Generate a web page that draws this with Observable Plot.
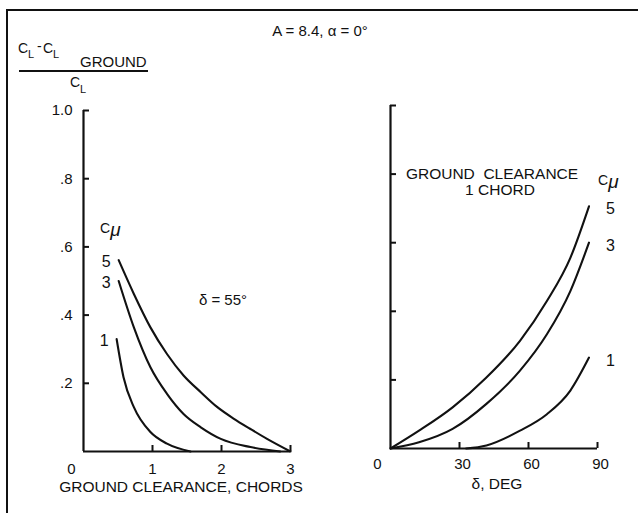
<!DOCTYPE html>
<html><head><meta charset="utf-8">
<script src="https://cdn.jsdelivr.net/npm/d3@7"></script>
<script src="https://cdn.jsdelivr.net/npm/@observablehq/plot@0.6"></script>
<style>
html,body{margin:0;padding:0;background:#fff;}
#root{position:relative;width:638px;height:513px;overflow:hidden;background:#fff;font-family:"Liberation Sans",Arial,sans-serif;color:#111;}
.t{position:absolute;white-space:nowrap;line-height:1;}
.plot{position:absolute;top:0;}
</style></head><body><div id="root"></div>
<script>
// ---- Data ----
const cmuLevels = ["1", "3", "5"];

// Left panel: loss ratio vs ground clearance (chords), delta = 55 deg
const clearance1 = [0.48, 0.58, 0.73, 0.97, 1.21, 1.55];
const loss1      = [0.33, 0.218, 0.130, 0.057, 0.023, 0.0];
const clearance3 = [0.51, 0.73, 0.97, 1.21, 1.45, 1.70, 1.99, 2.42, 2.85];
const loss3      = [0.50, 0.364, 0.247, 0.169, 0.110, 0.071, 0.037, 0.013, 0.0];
const clearance5 = [0.51, 0.73, 0.97, 1.21, 1.45, 1.70, 1.94, 2.18, 2.42, 2.66, 3.0];
const loss5      = [0.561, 0.462, 0.364, 0.286, 0.223, 0.174, 0.130, 0.096, 0.066, 0.037, 0.0];

// Right panel: loss ratio vs flap deflection delta (deg), clearance 1 chord
const delta1 = [32.9, 41.7, 56.3, 68.0, 78.2, 86.3];
const lossD1 = [0.0, 0.009, 0.052, 0.10, 0.169, 0.265];
const delta3 = [0, 12.4, 27.0, 41.7, 56.3, 68.0, 78.2, 86.3];
const lossD3 = [0, 0.018, 0.057, 0.13, 0.227, 0.333, 0.459, 0.60];
const delta5 = [0, 12.4, 27.0, 41.7, 56.3, 68.0, 78.2, 86.3];
const lossD5 = [0, 0.052, 0.12, 0.207, 0.314, 0.43, 0.556, 0.706];

// Ticks
const yTicks = [0.2, 0.4, 0.6, 0.8, 1.0];
const yTickLabels = [".2", ".4", ".6", ".8", "1.0"];
const leftXTicks = [1, 2, 3];
const rightXTicks = [30, 60, 90];

// ---- Tables ----
const zip = (xs, ys, c) => xs.map((x, i) => ({x, y: ys[i], c}));
const leftSeries = [zip(clearance1, loss1, "1"), zip(clearance3, loss3, "3"), zip(clearance5, loss5, "5")];
const rightSeries = [zip(delta1, lossD1, "1"), zip(delta3, lossD3, "3"), zip(delta5, lossD5, "5")];
const leftData = leftSeries.flat();
const rightData = rightSeries.flat();
const leftStarts = leftSeries.map(s => s[0]);
const rightEnds = rightSeries.map(s => s[s.length - 1]);

const INK = "#111";
const FONT = "'Liberation Sans', Arial, sans-serif";
const yFmt = d => yTickLabels[yTicks.indexOf(d)];

const left = Plot.plot({
  width: 330, height: 513,
  marginLeft: 83, marginRight: 40, marginTop: 110, marginBottom: 62,
  x: {domain: [0, 3], label: null},
  y: {domain: [0, 1], label: null},
  style: {background: "transparent", fontFamily: FONT, fontSize: "15px", color: INK},
  marks: [
    Plot.ruleX([0], {y1: 0, y2: 1, stroke: INK, strokeWidth: 2.2}),
    Plot.ruleY([0], {x1: 0, x2: 3, stroke: INK, strokeWidth: 2.2}),
    Plot.axisY(yTicks, {tickSize: -6, tickFormat: () => "", stroke: INK, strokeWidth: 2, label: null}),
    Plot.axisY(yTicks, {tickSize: 0, tickPadding: 11, tickFormat: yFmt, fill: INK, label: null}),
    Plot.axisX(leftXTicks, {tickSize: -6, tickFormat: () => "", stroke: INK, strokeWidth: 2, label: null}),
    Plot.axisX(leftXTicks, {tickSize: 0, tickPadding: 12, fill: INK, label: null}),
    Plot.axisX([0], {tickSize: 0, tickPadding: 12, dx: -12, fill: INK, label: null}),
    Plot.line(leftData, {x: "x", y: "y", z: "c", stroke: INK, strokeWidth: 2.1, curve: "monotone-x"}),
    Plot.text(leftStarts, {x: "x", y: "y", text: "c", textAnchor: "end", dx: -8, dy: 2, fontSize: 16, fill: INK})
  ]
});

const right = Plot.plot({
  width: 308, height: 513,
  marginLeft: 60, marginRight: 41, marginTop: 105, marginBottom: 65,
  x: {domain: [0, 90], label: null},
  y: {domain: [0, 1], label: null},
  style: {background: "transparent", fontFamily: FONT, fontSize: "15px", color: INK},
  marks: [
    Plot.ruleX([0], {y1: 0, y2: 1, stroke: INK, strokeWidth: 2.2}),
    Plot.ruleY([0], {x1: 0, x2: 90, stroke: INK, strokeWidth: 2.2}),
    Plot.axisY(yTicks, {tickSize: -6, tickFormat: () => "", stroke: INK, strokeWidth: 2, label: null}),
    Plot.axisX(rightXTicks, {tickSize: -6, tickFormat: () => "", stroke: INK, strokeWidth: 2, label: null}),
    Plot.axisX(rightXTicks, {tickSize: 0, tickPadding: 10, dx: 3, fill: INK, label: null}),
    Plot.axisX([0], {tickSize: 0, tickPadding: 10, dx: -13, fill: INK, label: null}),
    Plot.line(rightData, {x: "x", y: "y", z: "c", stroke: INK, strokeWidth: 2.1, curve: "monotone-x"}),
    Plot.text(rightEnds, {x: "x", y: "y", text: "c", textAnchor: "start", dx: 17, dy: 3, fontSize: 16, fill: INK})
  ]
});

const root = document.getElementById("root");
left.classList.add("plot"); left.style.left = "0px";
right.classList.add("plot"); right.style.left = "330px";
root.appendChild(left);
root.appendChild(right);

// ---- Text annotations (HTML) ----
function t(html, x, capTop, size, anchor = "start", extra = "") {
  const d = document.createElement("div");
  d.className = "t";
  d.innerHTML = html;
  const tx = anchor === "middle" ? "-50%" : anchor === "end" ? "-100%" : "0";
  d.style.cssText += `left:${x}px;top:${capTop - 0.13 * size}px;font-size:${size}px;transform:translateX(${tx});${extra}`;
  root.appendChild(d);
  return d;
}
function box(x, y, w, h) {
  const d = document.createElement("div");
  d.style.cssText = `position:absolute;left:${x}px;top:${y}px;width:${w}px;height:${h}px;background:${INK};`;
  root.appendChild(d);
}
// frame (top and left)
box(6, 9, 632, 2);
box(6, 9, 2, 504);
// title
t("A = 8.4, α = 0°", 320, 25, 15, "middle");
// y-axis label fraction: (C_L - C_L,GROUND) / C_L
t("C", 18, 43, 14);
t("L", 28, 50, 11);
t("-", 37, 41, 14);
t("C", 43, 43, 14);
t("L", 53, 50, 11);
t("GROUND", 80, 56, 15);
box(19, 70, 129, 2);
t("C", 70, 77, 14);
t("L", 80, 85, 11);
// C-mu headers
t("C<span style='font-style:italic;font-size:19px;position:relative;top:3px'>μ</span>", 100, 219, 14);
t("C<span style='font-style:italic;font-size:19px;position:relative;top:3px'>μ</span>", 598, 171, 14);
// in-plot notes
t("δ = 55°", 223, 294, 15, "middle");
t("GROUND &nbsp;CLEARANCE", 492, 168, 15.5, "middle");
t("1 CHORD", 500, 184, 15.5, "middle");
// axis titles
t("GROUND CLEARANCE, CHORDS", 181, 481, 15.5, "middle");
t("δ, DEG", 497, 478, 15.5, "middle");
</script></body></html>
